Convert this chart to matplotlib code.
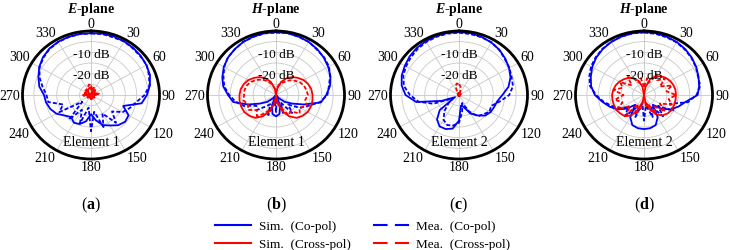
import numpy as np
import matplotlib
matplotlib.use('Agg')
import matplotlib.pyplot as plt
from matplotlib.lines import Line2D

plt.rcParams['font.family'] = ['Liberation Serif', 'DejaVu Serif']
plt.rcParams['mathtext.fontset'] = 'custom'
plt.rcParams['mathtext.rm'] = 'Liberation Serif'
plt.rcParams['mathtext.bf'] = 'Liberation Serif:bold'
plt.rcParams['mathtext.it'] = 'Liberation Serif:italic'
plt.rcParams['mathtext.bfit'] = 'Liberation Serif:italic:bold'

# angles 0..350 deg, step 10 (clockwise from top)
angles_deg = np.arange(0, 360, 10)
tick_angles = np.arange(0, 360, 30)

# ---- (a) E-plane, element 1
sim_co_a = [-1.0, -0.8, -0.8, -1.0, -1.2, -1.5, -2.0, -2.5, -3.8, -5.5, -7.5, -15.0,
            -11.0, -10.5, -11.5, -13.5, -15.0, -18.0, -21.0, -17.5, -15.5, -15.0, -16.5, -15.0,
            -12.5, -11.0, -10.0, -9.4, -7.0, -5.5, -3.8, -2.5, -1.6, -1.2, -1.0, -1.0]
mea_co_a = [-1.2, -1.0, -1.3, -1.0, -1.5, -1.8, -1.8, -3.0, -4.0, -6.5, -10.0, -12.0,
            -14.0, -18.0, -13.0, -20.0, -14.0, -22.0, -13.0, -24.0, -16.0, -22.0, -15.0, -25.0,
            -14.0, -17.0, -11.0, -10.5, -8.5, -6.0, -4.0, -2.8, -1.8, -1.3, -1.2, -1.0]
sim_x_a = [-27.0, -28.0, -30.0, -28.0, -27.5, -28.5, -29.0, -28.0, -27.0, -28.0, -29.0, -30.0,
           -29.0, -28.0, -29.0, -30.0, -30.0, -29.0, -28.0, -29.0, -30.0, -30.0, -29.0, -28.0,
           -29.0, -30.0, -28.5, -27.0, -28.0, -29.0, -30.0, -29.0, -28.0, -27.5, -27.0, -26.5]
mea_x_a = [-25.5, -27.0, -26.0, -28.5, -27.0, -29.0, -27.5, -28.0, -26.5, -27.5, -29.0, -28.0,
           -30.0, -29.0, -28.5, -30.0, -29.0, -28.0, -29.5, -30.0, -28.5, -29.0, -30.0, -28.0,
           -29.0, -28.0, -27.0, -26.5, -28.0, -27.0, -28.5, -27.0, -26.0, -27.5, -26.0, -25.0]

# ---- (b) H-plane, element 1
sim_co_b = [-0.5, -0.6, -0.9, -1.3, -1.9, -2.7, -3.6, -4.6, -6.0, -8.0, -10.0, -17.0,
            -22.0, -25.0, -28.0, -30.0, -25.0, -21.0, -20.0, -21.0, -25.0, -30.0, -28.0, -25.0,
            -22.0, -17.0, -11.0, -9.0, -6.5, -5.0, -3.6, -2.6, -1.9, -1.3, -0.9, -0.6]
mea_co_b = [-0.8, -0.5, -1.0, -1.2, -2.2, -2.5, -3.2, -4.8, -6.5, -7.5, -10.5, -15.0,
            -18.0, -23.0, -19.0, -26.0, -21.0, -28.0, -22.0, -27.0, -20.0, -25.0, -23.0, -19.0,
            -20.0, -15.0, -12.0, -9.5, -7.0, -5.5, -3.8, -2.5, -2.0, -1.2, -1.0, -0.7]
sim_x_b = [-30.0, -27.0, -23.5, -21.0, -19.0, -17.5, -16.0, -15.0, -14.3, -14.0, -13.8, -13.8,
           -14.0, -14.8, -16.0, -18.5, -22.0, -26.0, -30.0, -26.0, -22.0, -18.5, -16.0, -14.8,
           -14.0, -13.8, -13.8, -14.0, -14.3, -15.0, -16.0, -17.5, -19.0, -21.0, -23.5, -27.0]
mea_x_b = [-29.0, -26.0, -24.0, -23.0, -21.0, -19.5, -18.0, -17.0, -16.5, -16.0, -17.0, -15.5,
           -18.0, -16.5, -20.0, -19.0, -24.0, -27.0, -29.0, -26.0, -23.0, -20.0, -17.0, -19.0,
           -16.0, -17.0, -15.5, -16.0, -16.0, -16.5, -17.5, -19.0, -20.5, -22.5, -24.5, -27.0]

# ---- (c) E-plane, element 2
sim_co_c = [-0.5, -0.6, -1.0, -1.6, -2.4, -3.5, -4.7, -6.0, -8.0, -11.0, -13.0, -13.6,
            -14.0, -15.0, -17.5, -20.0, -24.0, -25.0, -18.0, -14.0, -13.0, -13.0, -15.0, -19.0,
            -28.0, -22.0, -11.0, -6.6, -4.5, -3.3, -2.6, -1.8, -1.2, -0.9, -0.6, -0.5]
mea_co_c = [-0.8, -1.0, -1.2, -1.5, -2.5, -3.8, -4.5, -5.5, -6.0, -8.0, -12.0, -15.0,
            -14.5, -16.0, -17.0, -21.0, -26.0, -22.0, -17.0, -15.5, -15.0, -16.5, -20.0, -24.0,
            -27.0, -18.0, -12.0, -8.5, -5.5, -4.0, -3.2, -2.5, -1.8, -1.3, -1.0, -0.8]
sim_x_c = [-29.0, -29.5, -30.0, -30.0, -30.0, -30.0, -30.0, -30.0, -30.0, -30.0, -30.0, -30.0,
           -30.0, -30.0, -30.0, -30.0, -30.0, -30.0, -30.0, -30.0, -30.0, -30.0, -30.0, -30.0,
           -30.0, -30.0, -30.0, -30.0, -30.0, -30.0, -30.0, -30.0, -30.0, -30.0, -29.5, -29.0]
mea_x_c = [-25.0, -26.0, -28.5, -30.0, -29.5, -30.0, -29.0, -30.0, -30.0, -29.5, -30.0, -30.0,
           -30.0, -29.0, -30.0, -30.0, -30.0, -29.5, -30.0, -30.0, -30.0, -29.0, -30.0, -30.0,
           -30.0, -29.5, -30.0, -30.0, -29.0, -30.0, -30.0, -29.5, -28.5, -28.5, -25.5, -24.5]

# ---- (d) H-plane, element 2
sim_co_d = [-0.5, -0.6, -0.9, -1.3, -1.9, -2.7, -3.6, -4.6, -5.5, -6.5, -11.5, -14.0,
            -16.5, -20.0, -24.0, -18.0, -15.0, -14.2, -14.0, -14.2, -15.0, -18.0, -24.0, -20.0,
            -16.5, -14.0, -11.5, -8.5, -6.5, -5.2, -3.8, -2.7, -1.9, -1.3, -0.9, -0.6]
mea_co_d = [-0.7, -0.9, -1.2, -1.5, -2.2, -2.9, -3.8, -4.8, -5.0, -7.0, -10.5, -18.0,
            -15.0, -22.0, -17.0, -24.0, -19.0, -25.0, -18.0, -26.0, -19.0, -23.0, -17.0, -21.0,
            -18.0, -15.0, -12.0, -9.0, -6.0, -4.5, -3.2, -2.4, -1.7, -1.2, -0.9, -0.7]
sim_x_d = [-30.0, -26.0, -22.0, -20.0, -18.5, -17.5, -16.8, -16.3, -16.0, -16.0, -16.0, -16.0,
           -16.0, -16.5, -17.5, -19.5, -23.0, -27.0, -30.0, -27.0, -23.0, -19.0, -17.0, -16.5,
           -16.0, -16.0, -16.0, -16.0, -16.3, -16.8, -17.5, -18.5, -19.5, -21.0, -23.0, -26.0]
mea_x_d = [-26.0, -22.0, -24.0, -19.0, -21.0, -18.0, -22.0, -17.0, -20.0, -16.0, -19.0, -17.0,
           -22.0, -18.0, -23.0, -20.0, -26.0, -24.0, -29.0, -24.0, -21.0, -25.0, -18.0, -22.0,
           -16.5, -20.0, -17.0, -21.0, -16.5, -20.0, -18.0, -23.0, -19.0, -21.0, -24.0, -22.0]

titles = [r'$\mathbfit{E}$-plane', r'$\mathbfit{H}$-plane', r'$\mathbfit{E}$-plane', r'$\mathbfit{H}$-plane']
elements = ['Element 1', 'Element 1', 'Element 2', 'Element 2']
sublabels = [r'($\mathbf{a}$)', r'($\mathbf{b}$)', r'($\mathbf{c}$)', r'($\mathbf{d}$)']
panels = [(sim_co_a, mea_co_a, sim_x_a, mea_x_a),
          (sim_co_b, mea_co_b, sim_x_b, mea_x_b),
          (sim_co_c, mea_co_c, sim_x_c, mea_x_c),
          (sim_co_d, mea_co_d, sim_x_d, mea_x_d)]
centers_x = [91, 276, 459, 644]

W, H = 730, 251
fig = plt.figure(figsize=(W / 100, H / 100), dpi=100)

th = np.deg2rad(np.append(angles_deg, 360))
blue, red = '#0000ff', '#ff0000'
short_dash = (0, (2.2, 1.2))


def closed(v):
    v = np.clip(np.asarray(v, dtype=float), -30, 0)
    return np.append(v, v[0])


for i, (sc, mc, sx, mx) in enumerate(panels):
    cx = centers_x[i]
    aw, ah = 137, 128
    ax = fig.add_axes([(cx - aw / 2) / W, (H - 160) / H, aw / W, ah / H], projection='polar')
    ax.set_aspect('auto')
    ax.set_theta_zero_location('N')
    ax.set_theta_direction(-1)

    ax.plot(th, closed(sc), color=blue, lw=1.3)
    ax.plot(th, closed(mc), color=blue, lw=1.3, ls=short_dash)
    ax.plot(th, closed(sx), color=red, lw=1.3)
    ax.plot(th, closed(mx), color=red, lw=1.3, ls=short_dash)

    ax.set_rlim(-30, 0)
    ax.set_rticks([-25, -20, -15, -10, -5, 0])
    ax.set_yticklabels([])
    ax.set_thetagrids(tick_angles, [''] * len(tick_angles))
    ax.grid(True, color='#c8c8c8', lw=0.6)
    ax.spines['polar'].set_linewidth(2)
    ax.spines['polar'].set_color('black')

    # angle labels just outside the rim
    for a in tick_angles:
        s, c = np.sin(np.deg2rad(a)), np.cos(np.deg2rad(a))
        ha = 'left' if s > 0.1 else ('right' if s < -0.1 else 'center')
        va = 'bottom' if c > 0.1 else ('top' if c < -0.1 else 'center')
        ax.annotate(str(a), xy=(np.deg2rad(a), 0), xytext=(1.8 * s, 0.6 * c),
                    textcoords='offset points', ha=ha, va=va, fontsize=10,
                    annotation_clip=False)

    ax.text(0, -10.6, '-10 dB', ha='center', va='center', fontsize=9.5)
    ax.text(0, -20.6, '-20 dB', ha='center', va='center', fontsize=9.5)
    ax.text(0.5, 0.14, elements[i], transform=ax.transAxes, ha='center', va='center', fontsize=10)

    fig.text(cx / W, 1 - 9 / H, titles[i], ha='center', va='center', fontsize=10, fontweight='bold')
    fig.text(cx / W, 1 - 205 / H, sublabels[i], ha='center', va='center', fontsize=11.5)

handles = [Line2D([], [], color=blue, lw=1.5),
           Line2D([], [], color=red, lw=1.5),
           Line2D([], [], color=blue, lw=1.5, ls=(0, (7, 3.5))),
           Line2D([], [], color=red, lw=1.5, ls=(0, (7, 3.5)))]
labels = ['Sim.  (Co-pol)', 'Sim.  (Cross-pol)', 'Mea.  (Co-pol)', 'Mea.  (Cross-pol)']
fig.legend(handles, labels, ncol=2, loc='center', bbox_to_anchor=(0.497, 0.059),
           frameon=False, fontsize=9.5, handlelength=2.7, handletextpad=0.6,
           columnspacing=1.7, labelspacing=0.45)

fig.savefig('out.png', dpi=100)
